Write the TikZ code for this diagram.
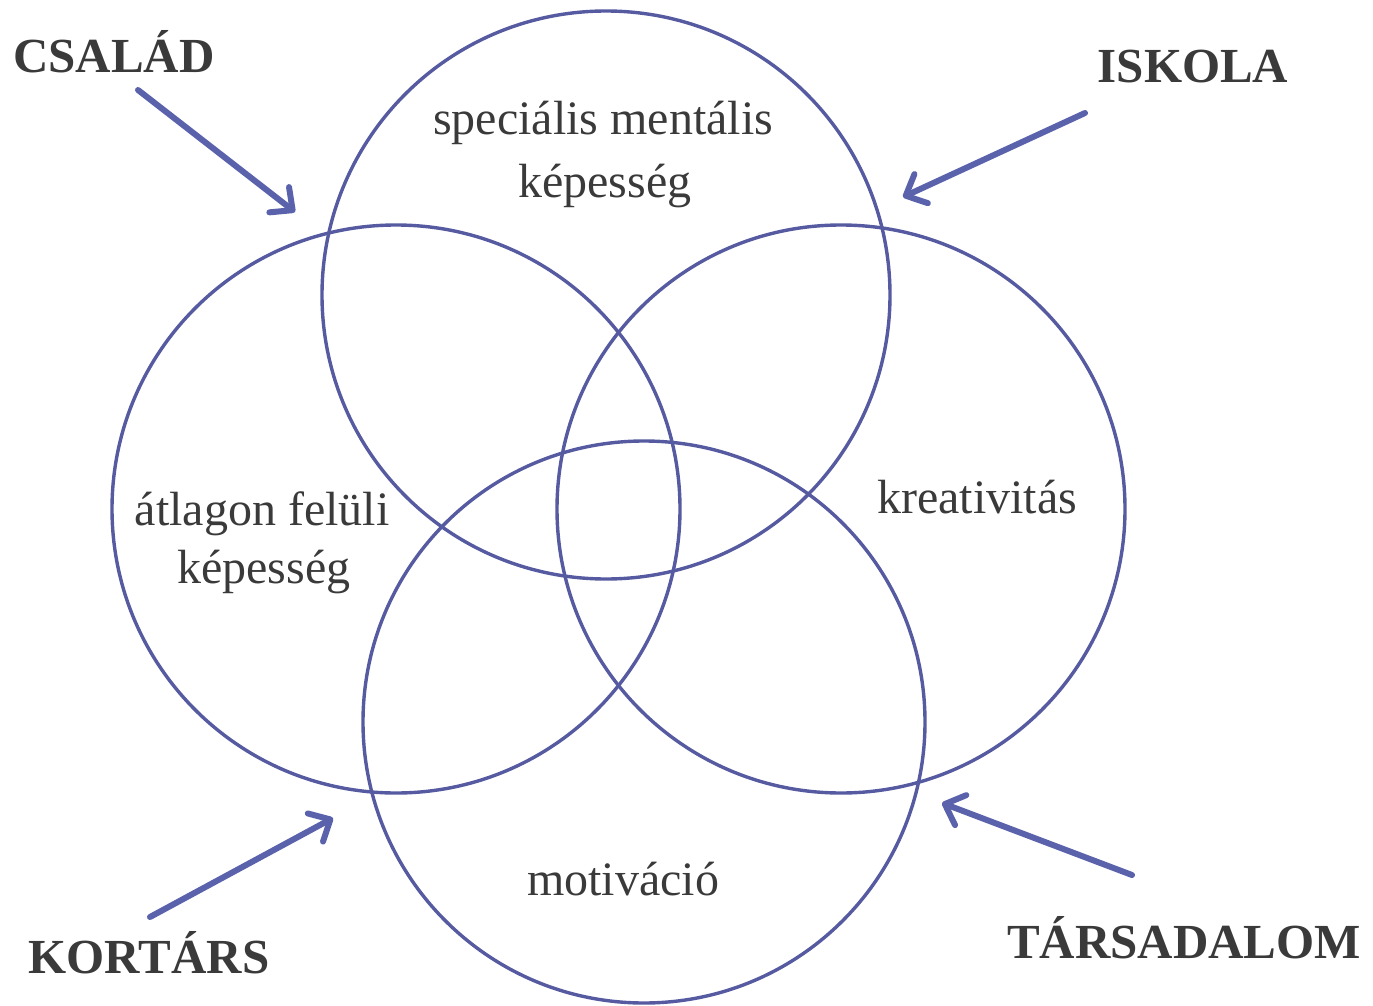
\documentclass[tikz,border=0pt]{standalone}
\usepackage{fontspec}
\setmainfont{Liberation Serif}
\usetikzlibrary{arrows.meta}
\definecolor{circcol}{RGB}{86,90,160}
\definecolor{arrcol}{RGB}{90,98,172}
\definecolor{txtcol}{RGB}{58,58,58}
\tikzset{
  ring/.style={draw=circcol, line width=3.4pt},
  infl/.style={draw=arrcol, line width=6pt, line cap=round,
    -{Straight Barb[length=17pt, width=32pt, line cap=round, line join=round]}},
  biglabel/.style={font=\fontsize{49}{58}\selectfont\bfseries, text=txtcol, anchor=base, inner sep=0pt},
  inlabel/.style={font=\fontsize{48}{58}\selectfont, text=txtcol, anchor=base, inner sep=0pt}
}
\begin{document}
\begin{tikzpicture}[x=1pt, y=-1pt]
\useasboundingbox (0,0) rectangle (1373,1006);
% circles
\node[ring, circle, minimum size=568pt, inner sep=0pt] (ctop) at (606,295) {};
\node[ring, circle, minimum size=568pt, inner sep=0pt] (cleft) at (396,509) {};
\node[ring, circle, minimum size=568pt, inner sep=0pt] (cright) at (841,509) {};
\node[ring, circle, minimum size=562pt, inner sep=0pt] (cbot) at (644,722) {};
% inner labels
\node[inlabel] (spec1) at (603,135) {speciális mentális};
\node[inlabel] (spec2) at (605,197) {képesség};
\node[inlabel] (atl1) at (262,525) {átlagon felüli};
\node[inlabel] (atl2) at (264,583) {képesség};
\node[inlabel] (krea) at (977,513) {kreativitás};
\node[inlabel] (moti) at (623,895) {motiváció};
% outer labels
\node[biglabel] (csalad) at (114,73) {CSALÁD};
\node[biglabel] (iskola) at (1193,83) {ISKOLA};
\node[biglabel] (kortars) at (149,973) {KORTÁRS};
\node[biglabel] (tarsad) at (1184,958) {TÁRSADALOM};
% arrows
\coordinate (csS) at (138,90);   \coordinate (csT) at (295,212);
\coordinate (isS) at (1085,113); \coordinate (isT) at (903,197);
\coordinate (koS) at (150,917);  \coordinate (koT) at (333,818);
\coordinate (taS) at (1132,875); \coordinate (taT) at (942,803);
\draw[infl] (csS) -- (csT);
\draw[infl] (isS) -- (isT);
\draw[infl] (koS) -- (koT);
\draw[infl] (taS) -- (taT);
\end{tikzpicture}
\end{document}
